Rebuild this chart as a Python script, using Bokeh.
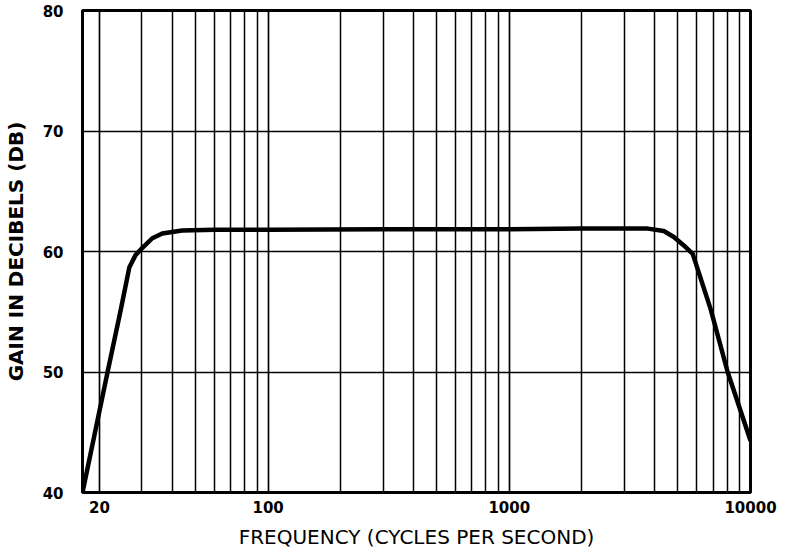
from bokeh.plotting import figure
from bokeh.models import FixedTicker, Range1d
from bokeh.embed import file_html
from bokeh.resources import INLINE

# Frequency response
freq_hz = [17, 21.6, 24.4, 26.6, 28.2, 30.1, 33.1, 36.4, 44, 60, 100, 300,
           1000, 2000, 3750, 4370, 4810, 5290, 5760, 6840, 8040, 10000]
gain_db = [40, 50, 55, 58.7, 59.7, 60.3, 61.1, 61.5, 61.75, 61.8, 61.8, 61.85,
           61.85, 61.9, 61.9, 61.7, 61.2, 60.5, 59.8, 55.2, 50.0, 44.3]

x_ticks = [20, 100, 1000, 10000]
x_tick_labels = ["20", "100", "1000", "10000"]
x_minor = [30, 40, 50, 60, 70, 80, 90,
           200, 300, 400, 500, 600, 700, 800, 900,
           2000, 3000, 4000, 5000, 6000, 7000, 8000, 9000]
y_ticks = [40, 50, 60, 70, 80]

x_title = "FREQUENCY (CYCLES PER SECOND)"
y_title = "GAIN IN DECIBELS (DB)"

p = figure(width=780, height=551, x_axis_type="log",
           x_range=Range1d(17, 10000), y_range=Range1d(40, 80),
           output_backend="svg", toolbar_location=None,
           min_border_left=80, min_border_right=30,
           min_border_top=10, min_border_bottom=56)

p.background_fill_color = "white"
p.border_fill_color = "white"
p.outline_line_color = "black"
p.outline_line_width = 3

p.xaxis.ticker = FixedTicker(ticks=x_ticks, minor_ticks=x_minor)
p.xaxis.major_label_overrides = {t: l for t, l in zip(x_ticks, x_tick_labels)}
p.yaxis.ticker = FixedTicker(ticks=y_ticks)

for ax in (p.xaxis, p.yaxis):
    ax.axis_line_color = None
    ax.major_tick_line_color = None
    ax.minor_tick_line_color = None
    ax.major_label_text_font = "DejaVu Sans"
    ax.major_label_text_font_style = "bold"
    ax.major_label_text_font_size = "15px"
    ax.major_label_text_color = "black"
    ax.axis_label_text_color = "black"
    ax.axis_label_text_font = "DejaVu Sans"

p.xaxis.major_label_standoff = 2
p.yaxis.major_label_standoff = 13
p.xaxis.axis_label = x_title
p.xaxis.axis_label_text_font_style = "normal"
p.xaxis.axis_label_text_font_size = "20px"
p.xaxis.axis_label_standoff = 9
p.yaxis.axis_label = y_title
p.yaxis.axis_label_text_font_style = "bold"
p.yaxis.axis_label_text_font_size = "20px"
p.yaxis.axis_label_standoff = 12

p.xgrid.grid_line_color = "black"
p.xgrid.grid_line_width = 1.7
p.xgrid.grid_line_alpha = 1
p.xgrid.minor_grid_line_color = "black"
p.xgrid.minor_grid_line_width = 1.5
p.ygrid.grid_line_color = "black"
p.ygrid.grid_line_width = 1.7
p.ygrid.grid_line_alpha = 1

p.line(freq_hz, gain_db, line_color="black", line_width=4.5, line_join="round")

open("out.html", "w").write(file_html(p, INLINE))
